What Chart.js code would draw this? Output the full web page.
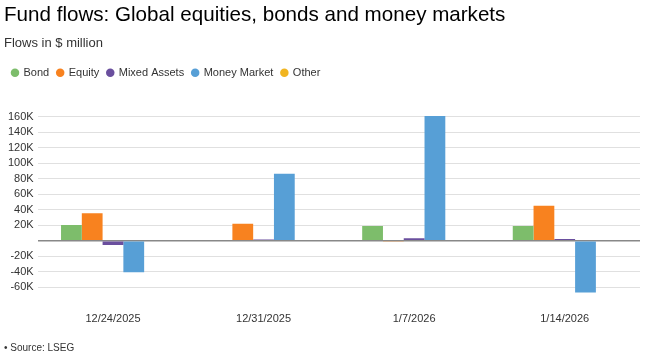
<!DOCTYPE html>
<html>
<head>
<meta charset="utf-8">
<script src="https://cdn.jsdelivr.net/npm/chart.js@4/dist/chart.umd.min.js"></script>
<style>
  body { margin: 0; background: #fff; font-family: "Liberation Sans", Arial, sans-serif; }
  #wrap { position: relative; width: 647px; height: 355px; }
  #src { position: absolute; left: 4px; top: 342px; font-size: 10px; color: #333; }
</style>
</head>
<body>
<div id="wrap">
  <canvas id="flowChart" width="647" height="355"></canvas>
  <div id="src">• Source: LSEG</div>
</div>
<script>
const weeks = ['12/24/2025', '12/31/2025', '1/7/2026', '1/14/2026'];
const bond = [20300, -1000, 19000, 19000];
const equity = [35300, 22000, -1500, 45000];
const mixedAssets = [-5500, 1500, 3000, 2000];
const moneyMarket = [-41000, 86500, 161000, -67000];
const other = [0, 0, 0, 0];
const yTicks = [-60000, -40000, -20000, 0, 20000, 40000, 60000, 80000, 100000, 120000, 140000, 160000];

Chart.defaults.font.family = '"Liberation Sans", Arial, sans-serif';
Chart.defaults.color = '#333';

// extra room between legend and plot
const legendGap = {
  id: 'legendGap',
  beforeInit(chart) {
    const fit = chart.legend.fit;
    chart.legend.fit = function () {
      fit.bind(chart.legend)();
      this.height += 27;
    };
  }
};

const data = {
  labels: weeks,
  datasets: [
    { label: 'Bond', data: bond, backgroundColor: '#7dbd6b' },
    { label: 'Equity', data: equity, backgroundColor: '#f8821f' },
    { label: 'Mixed Assets', data: mixedAssets, backgroundColor: '#6a4f9e' },
    { label: 'Money Market', data: moneyMarket, backgroundColor: '#579fd6' },
    { label: 'Other', data: other, backgroundColor: '#f1b521' }
  ]
};

const config = {
  type: 'bar',
  data: data,
  plugins: [legendGap],
  options: {
    responsive: false,
    animation: false,
    layout: { padding: { left: 4, right: 7, bottom: 19 } },
    datasets: {
      bar: { barPercentage: 1, categoryPercentage: 0.69, borderWidth: 0 }
    },
    plugins: {
      title: {
        display: true,
        text: 'Fund flows: Global equities, bonds and money markets',
        align: 'start',
        color: '#000',
        font: { size: 20.6, weight: 'normal' },
        padding: { top: 3, bottom: 8 }
      },
      subtitle: {
        display: true,
        text: 'Flows in $ million',
        align: 'start',
        color: '#333',
        font: { size: 13 },
        padding: { bottom: 8 }
      },
      legend: {
        position: 'top',
        align: 'start',
        labels: {
          usePointStyle: true,
          pointStyle: 'circle',
          boxWidth: 6,
          boxHeight: 6,
          padding: 8,
          color: '#333',
          font: { size: 11 }
        }
      },
      tooltip: { enabled: false }
    },
    scales: {
      x: {
        grid: { display: false },
        border: { display: false },
        ticks: { color: '#333', font: { size: 11 }, padding: 10 }
      },
      y: {
        min: -70000,
        max: 162000,
        border: { display: false },
        afterBuildTicks: (axis) => {
          axis.ticks = yTicks.map((v) => ({ value: v }));
        },
        grid: {
          drawTicks: false,
          color: (ctx) => ctx.tick && ctx.tick.value === 0 ? '#888' : '#e0e0e0',
          lineWidth: (ctx) => ctx.tick && ctx.tick.value === 0 ? 1.5 : 1
        },
        ticks: {
          autoSkip: false,
          padding: 4,
          color: '#333',
          font: { size: 11 },
          callback: (v) => v === 0 ? '' : (v / 1000) + 'K'
        }
      }
    }
  }
};

const flowChart = new Chart(document.getElementById('flowChart'), config);
</script>
</body>
</html>
